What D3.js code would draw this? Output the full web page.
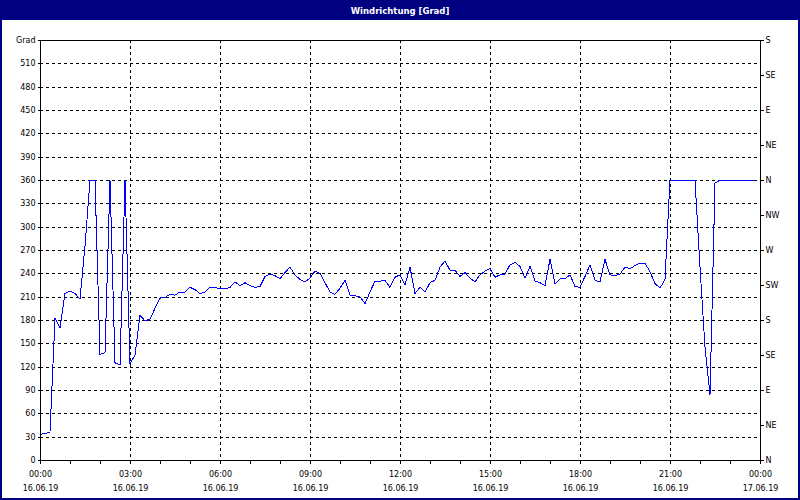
<!DOCTYPE html>
<html>
<head>
<meta charset="utf-8">
<script src="https://cdn.jsdelivr.net/npm/d3@7"></script>
<style>
  html, body { margin: 0; padding: 0; background: #fff; }
  svg { display: block; }
  text { font-family: "DejaVu Sans", Verdana, sans-serif; }
</style>
</head>
<body>
<svg id="chart" width="800" height="500"></svg>
<script>
// ---------- data ----------
const title = "Windrichtung [Grad]";
const startTime = "2019-06-16T00:00:00";
const endTime = "2019-06-17T00:00:00";
const stepMinutes = 10;
const windDirection = [
  33,34,36,182,170,214,217,214,207,275,
  360,360,136,138,360,125,122,360,124,135,
  186,179,181,195,208,209,213,212,216,216,
  222,219,214,216,222,222,220,220,222,229,
  224,228,224,222,223,236,239,237,233,241,
  248,238,232,229,234,243,240,228,216,213,
  221,231,212,211,210,201,216,230,230,231,
  222,235,238,225,248,214,222,216,228,231,
  248,256,244,244,236,241,234,229,238,243,
  246,235,238,239,251,254,249,234,249,230,
  228,224,258,226,233,233,238,223,222,236,
  251,231,229,258,238,237,239,248,246,250,
  253,253,242,227,221,232,360,360,360,360,
  360,360,248,145,84,356,360,360,360,360,
  360,360,360,360
];
const leftTicks = [0,30,60,90,120,150,180,210,240,270,300,330,360,390,420,450,480,510,540];
const leftUnit = "Grad";
const rightTicks = [0,45,90,135,180,225,270,315,360,405,450,495,540];
const compassLabels = ["N","NE","E","SE","S","SW","W","NW","N","NE","E","SE","S"];
const timeTickLabels = ["00:00","03:00","06:00","09:00","12:00","15:00","18:00","21:00","00:00"];
const dateTickLabels = ["16.06.19","16.06.19","16.06.19","16.06.19","16.06.19","16.06.19","16.06.19","16.06.19","17.06.19"];

// ---------- layout ----------
const W = 800, H = 500;
const plot = { left: 40, right: 760, top: 40, bottom: 460 };
const navy = "#000080";

const svg = d3.select("#chart");

const t0 = new Date(startTime), t1 = new Date(endTime);
const x = d3.scaleTime().domain([t0, t1]).range([plot.left, plot.right]);
const y = d3.scaleLinear().domain([0, 540]).range([plot.bottom, plot.top]);

const points = windDirection.map((v, i) => ({
  t: new Date(t0.getTime() + i * stepMinutes * 60000), v
}));

// background + border + title bar
svg.append("rect").attr("x", 0).attr("y", 0).attr("width", W).attr("height", H).attr("fill", navy);
svg.append("rect").attr("x", 2).attr("y", 20).attr("width", W - 4).attr("height", H - 22).attr("fill", "#ffffff");
svg.append("text")
  .attr("x", W / 2).attr("y", 14)
  .attr("text-anchor", "middle")
  .attr("fill", "#ffffff")
  .attr("font-size", "8.5px")
  .attr("font-weight", "bold")
  .text(title);

const crisp = v => Math.round(v) + 0.5;

// grid
const majorTimes = d3.timeHour.every(3).range(t0, new Date(t1.getTime() + 1));
const grid = svg.append("g").attr("shape-rendering", "crispEdges")
  .attr("stroke", "#000").attr("stroke-width", 1).attr("stroke-dasharray", "3,3");
grid.selectAll("line.h").data(leftTicks.filter(v => v > 0 && v < 540)).enter().append("line")
  .attr("x1", plot.left).attr("x2", plot.right)
  .attr("y1", d => crisp(y(d))).attr("y2", d => crisp(y(d)));
grid.selectAll("line.v").data(majorTimes.slice(1, -1)).enter().append("line")
  .attr("y1", plot.top).attr("y2", plot.bottom)
  .attr("x1", d => crisp(x(d))).attr("x2", d => crisp(x(d)));

// data line
const line = d3.line().x(d => x(d.t)).y(d => y(d.v));
svg.append("path").datum(points)
  .attr("d", line)
  .attr("fill", "none")
  .attr("stroke", "#0000ff")
  .attr("stroke-width", 1)
  .attr("shape-rendering", "crispEdges");

// frame
svg.append("rect")
  .attr("x", plot.left + 0.5).attr("y", plot.top + 0.5)
  .attr("width", plot.right - plot.left).attr("height", plot.bottom - plot.top)
  .attr("fill", "none").attr("stroke", "#000").attr("shape-rendering", "crispEdges");

function styleAxis(g) {
  g.select(".domain").remove();
  g.selectAll("line").attr("stroke", "#000").attr("shape-rendering", "crispEdges");
  g.selectAll("text").attr("fill", "#000").attr("font-family", "'DejaVu Sans', Verdana, sans-serif").attr("font-size", "8px");
}

// left axis
svg.append("g").attr("transform", `translate(${plot.left + 0.5},0)`)
  .call(d3.axisLeft(y).tickValues(leftTicks).tickSize(3).tickPadding(2)
    .tickFormat(v => v === 540 ? leftUnit : String(v)))
  .call(styleAxis)
  .call(g => g.selectAll(".tick").attr("transform", d => `translate(0,${crisp(y(d))})`));

// right axis
svg.append("g").attr("transform", `translate(${plot.right + 0.5},0)`)
  .call(d3.axisRight(y).tickValues(rightTicks).tickSize(3).tickPadding(2)
    .tickFormat((v, i) => compassLabels[i]))
  .call(styleAxis)
  .call(g => g.selectAll(".tick").attr("transform", d => `translate(0,${crisp(y(d))})`));

// bottom axis: hourly ticks
const hourTimes = d3.timeHour.every(1).range(t0, new Date(t1.getTime() + 1));
svg.append("g").attr("transform", `translate(0,${plot.bottom + 0.5})`)
  .call(d3.axisBottom(x).tickValues(hourTimes).tickSize(3).tickFormat(""))
  .call(styleAxis)
  .call(g => g.selectAll(".tick").attr("transform", d => `translate(${crisp(x(d))},0)`));

// time labels
svg.append("g").attr("transform", `translate(0,${plot.bottom})`)
  .call(d3.axisBottom(x).tickValues(majorTimes).tickSize(0).tickPadding(11)
    .tickFormat((d, i) => timeTickLabels[i]))
  .call(styleAxis);

// date labels
svg.append("g").attr("transform", `translate(0,${plot.bottom})`)
  .call(d3.axisBottom(x).tickValues(majorTimes).tickSize(0).tickPadding(25)
    .tickFormat((d, i) => dateTickLabels[i]))
  .call(styleAxis);
</script>
</body>
</html>
